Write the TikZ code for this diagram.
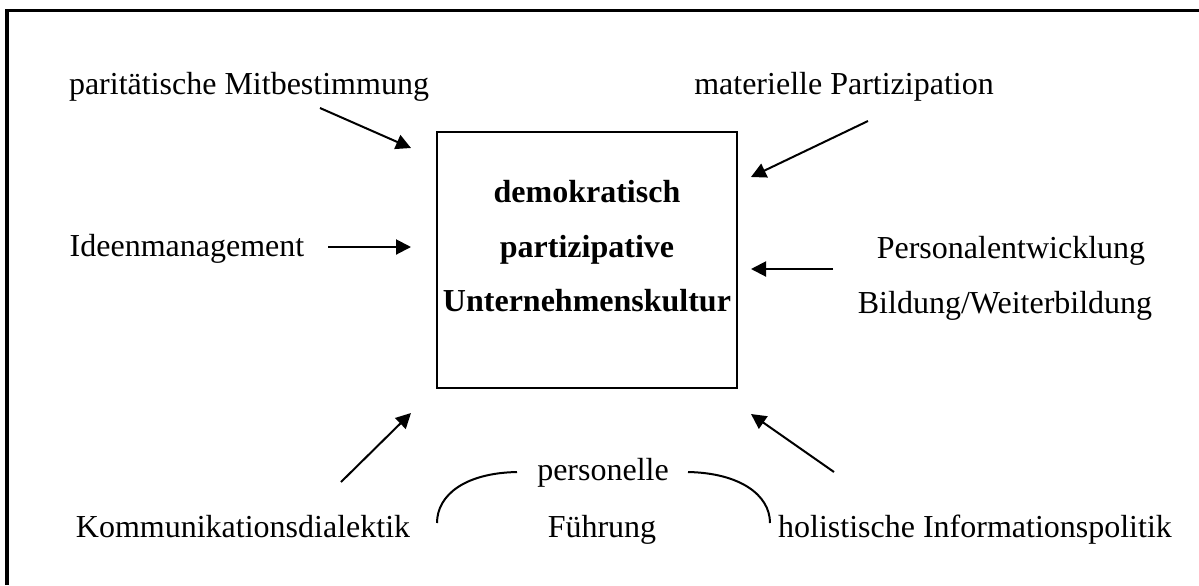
\documentclass[tikz,border=0pt]{standalone}
\usepackage{fontspec}
\setmainfont{Liberation Serif}
\usetikzlibrary{arrows.meta}
\begin{document}
\begin{tikzpicture}[x=0.5pt,y=-0.5pt,
  lbl/.style={font=\fontsize{16}{19}\selectfont, inner sep=0pt, anchor=base},
  blbl/.style={font=\fontsize{16}{19}\selectfont\bfseries, inner sep=0pt, anchor=base},
  arr/.style={line width=1pt, -{Triangle[length=7.5pt,width=7.5pt]}},
  arc/.style={line width=1pt}]
\useasboundingbox (0,0) rectangle (1199,585);
% outer frame (only top and left visible)
\draw[line width=1.6pt] (7,585) -- (7,10.5) -- (1199,10.5);
% central box
\node[draw, line width=1pt, minimum width=150pt, minimum height=128pt, inner sep=0pt] (box) at (587,260) {};
\node[blbl] (t1) at (587,202) {demokratisch};
\node[blbl] (t2) at (587,257) {partizipative};
\node[blbl] (t3) at (587,311) {Unternehmenskultur};
% labels
\node[lbl] (pm) at (249,94) {paritätische Mitbestimmung};
\node[lbl] (mp) at (844,94) {materielle Partizipation};
\node[lbl] (im) at (187,256) {Ideenmanagement};
\node[lbl] (pe) at (1011,258) {Personalentwicklung};
\node[lbl] (bw) at (1005,313) {Bildung/Weiterbildung};
\node[lbl] (kd) at (243,537) {Kommunikationsdialektik};
\node[lbl] (hi) at (975,537) {holistische Informationspolitik};
\node[lbl] (pp) at (603,480) {personelle};
\node[lbl] (fu) at (602,537) {Führung};
% arrow coordinates
\coordinate (a1s) at (320,108); \coordinate (a1e) at (411,148);
\coordinate (a2s) at (868,121); \coordinate (a2e) at (751,177);
\coordinate (a3s) at (328,247); \coordinate (a3e) at (411,247);
\coordinate (a4s) at (833,269); \coordinate (a4e) at (751,269);
\coordinate (a5s) at (341,482); \coordinate (a5e) at (411,413);
\coordinate (a6s) at (834,472); \coordinate (a6e) at (751,414);
\draw[arr] (a1s) -- (a1e);
\draw[arr] (a2s) -- (a2e);
\draw[arr] (a3s) -- (a3e);
\draw[arr] (a4s) -- (a4e);
\draw[arr] (a5s) -- (a5e);
\draw[arr] (a6s) -- (a6e);
% arcs around "personelle"
\coordinate (l1) at (517,472); \coordinate (l2) at (437,523);
\coordinate (r1) at (688,472); \coordinate (r2) at (770,523);
\draw[arc] (l1) .. controls (465,473) and (437,495) .. (l2);
\draw[arc] (r1) .. controls (740,473) and (770,495) .. (r2);
\end{tikzpicture}
\end{document}
